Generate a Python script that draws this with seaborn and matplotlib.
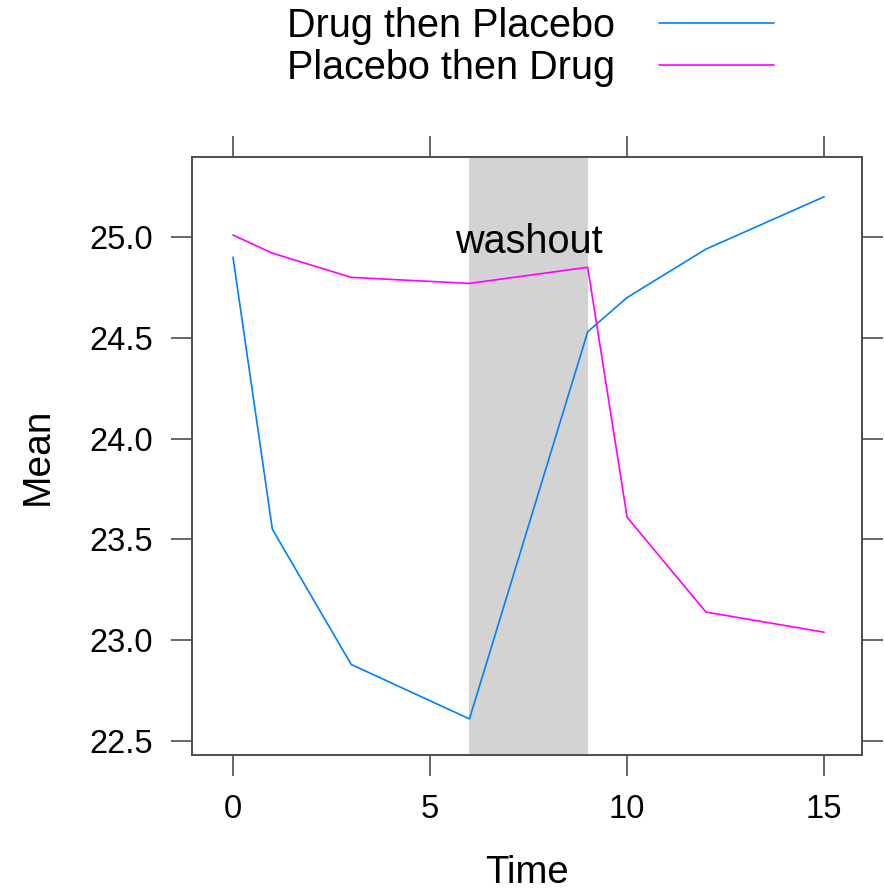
import numpy as np
import pandas as pd
import matplotlib
matplotlib.use("Agg")
import matplotlib.pyplot as plt
import seaborn as sns
from matplotlib.lines import Line2D

time = [0, 1, 3, 6, 9, 10, 12, 15]
drug_then_placebo = [24.90, 23.55, 22.88, 22.61, 24.53, 24.70, 24.94, 25.20]
placebo_then_drug = [25.01, 24.92, 24.80, 24.77, 24.85, 23.61, 23.14, 23.04]
groups = ["Drug then Placebo", "Placebo then Drug"]
colors = ["#0080ff", "#ff00ff"]
x_ticks = [0, 5, 10, 15]
y_ticks = [22.5, 23.0, 23.5, 24.0, 24.5, 25.0]
washout = (6, 9)

df = pd.concat([
    pd.DataFrame({"Time": time, "Mean": drug_then_placebo, "Group": groups[0]}),
    pd.DataFrame({"Time": time, "Mean": placebo_then_drug, "Group": groups[1]}),
])

sns.set_style("white")
plt.rcParams["font.family"] = ["Liberation Sans", "DejaVu Sans"]
plt.rcParams["text.color"] = "#000000"
plt.rcParams["axes.labelcolor"] = "#000000"

fig = plt.figure(figsize=(8.84, 8.90), dpi=100)
ax = fig.add_axes([192/884, 1-755/890, (862-192)/884, (755-157)/890])

ax.axvspan(washout[0], washout[1], color="#d3d3d3", lw=0, zorder=0)
sns.lineplot(data=df, x="Time", y="Mean", hue="Group", palette=dict(zip(groups, colors)),
             ax=ax, linewidth=1.2, legend=False, zorder=2)
ax.text(7.5, 24.975, "washout", ha="center", va="center", fontsize=28.5, color="#000000", zorder=3)

ax.set_xlim(-1.04, 15.96)
ax.set_ylim(22.431, 25.397)
ax.set_xticks(x_ticks)
ax.set_xticklabels([str(t) for t in x_ticks])
ax.set_yticks(y_ticks)
ax.set_yticklabels([f"{v:.1f}" for v in y_ticks])

for s in ax.spines.values():
    s.set_visible(True)
    s.set_color("#4d4d4d")
    s.set_linewidth(1.4)
ax.tick_params(axis="both", which="both", direction="out", length=15, width=1.2,
               colors="#4d4d4d", labelcolor="#000000", labelsize=23.5, pad=13,
               top=True, right=True, bottom=True, left=True,
               labeltop=False, labelright=False)

ax.set_xlabel("Time", fontsize=27.5, color="#000000")
ax.set_ylabel("Mean", fontsize=28, color="#000000")
ax.xaxis.set_label_coords(0.5, -0.167)
ax.yaxis.set_label_coords(-0.204, 0.5)

handles = [Line2D([0], [0], color=c, lw=1.2) for c in colors]
fig.legend(handles, groups, loc="upper center", bbox_to_anchor=(0.6, 0.997),
           frameon=False, markerfirst=False, fontsize=28.5, handlelength=2.9,
           handletextpad=1.1, labelspacing=0.1, borderpad=0.1, borderaxespad=0,
           labelcolor="#000000")

fig.savefig("out.png", dpi=100)
